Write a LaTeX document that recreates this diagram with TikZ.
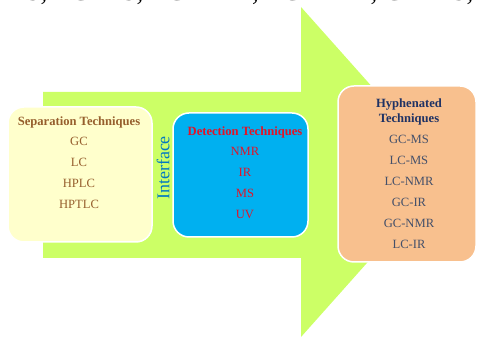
\documentclass[tikz,border=0pt]{standalone}
\usepackage{fontspec}
\setmainfont{Liberation Serif}
\definecolor{arrowgreen}{RGB}{204,255,102}
\definecolor{sepfill}{RGB}{255,255,204}
\definecolor{sepink}{RGB}{150,95,45}
\definecolor{detfill}{RGB}{0,176,240}
\definecolor{detink}{RGB}{225,20,40}
\definecolor{hyphfill}{RGB}{248,192,142}
\definecolor{hyphtitle}{RGB}{31,50,100}
\definecolor{hyphink}{RGB}{68,80,106}
\definecolor{ifaceink}{RGB}{0,120,195}
\tikzset{
  box/.style={rectangle, draw=white, line width=1.5pt, rounded corners=16pt},
  item/.style={anchor=base, inner sep=0pt},
  head/.style={anchor=base, inner sep=0pt, font=\fontsize{12.6}{14}\selectfont\bfseries}
}
\begin{document}
\begin{tikzpicture}[x=1pt, y=1pt, font=\fontsize{12.6}{14}\selectfont, line join=round]
\clip (0,0) rectangle (477,337);
% line of text above, cut by the page edge
\node[anchor=base west, inner sep=0pt, font=\fontsize{27}{30}\selectfont] (cap) at (-45,336) {GC-MS, LC-MS, LC-FTIR, LC-NMR, CE-MS, etc.};
% big arrow
\fill[arrowgreen] (43,245) -- (301,245) -- (301,330) -- (448,165) -- (301,0) -- (301,79) -- (43,79) -- cycle;
% separation
\node[box, fill=sepfill, minimum width=144pt, minimum height=135pt] (sep) at (80,162.5) {};
\node[head, text=sepink] (septitle) at (79,211) {Separation Techniques};
\foreach \t [count=\i] in {GC,LC,HPLC,HPTLC}
  \node[item, text=sepink] (sep\i) at (79,212-21*\i) {\t};
% interface
\node[rotate=90, text=ifaceink, font=\fontsize{18}{20}\selectfont, inner sep=0pt] (iface) at (163,169) {Interface};
% detection
\node[box, fill=detfill, minimum width=135pt, minimum height=124pt] (det) at (240.5,162) {};
\node[head, text=detink] (dettitle) at (245,201) {Detection Techniques};
\foreach \t [count=\i] in {NMR,IR,MS,UV}
  \node[item, text=detink] (det\i) at (245,202-21*\i) {\t};
% hyphenated
\node[box, fill=hyphfill, minimum width=138pt, minimum height=176pt] (hyph) at (407,163) {};
\node[head, text=hyphtitle] (hyphtitle1) at (409,229) {Hyphenated};
\node[head, text=hyphtitle] (hyphtitle2) at (409,214) {Techniques};
\foreach \t [count=\i] in {GC-MS,LC-MS,LC-NMR,GC-IR,GC-NMR,LC-IR}
  \node[item, text=hyphink] (hyph\i) at (409,214-21*\i) {\t};
\end{tikzpicture}
\end{document}
